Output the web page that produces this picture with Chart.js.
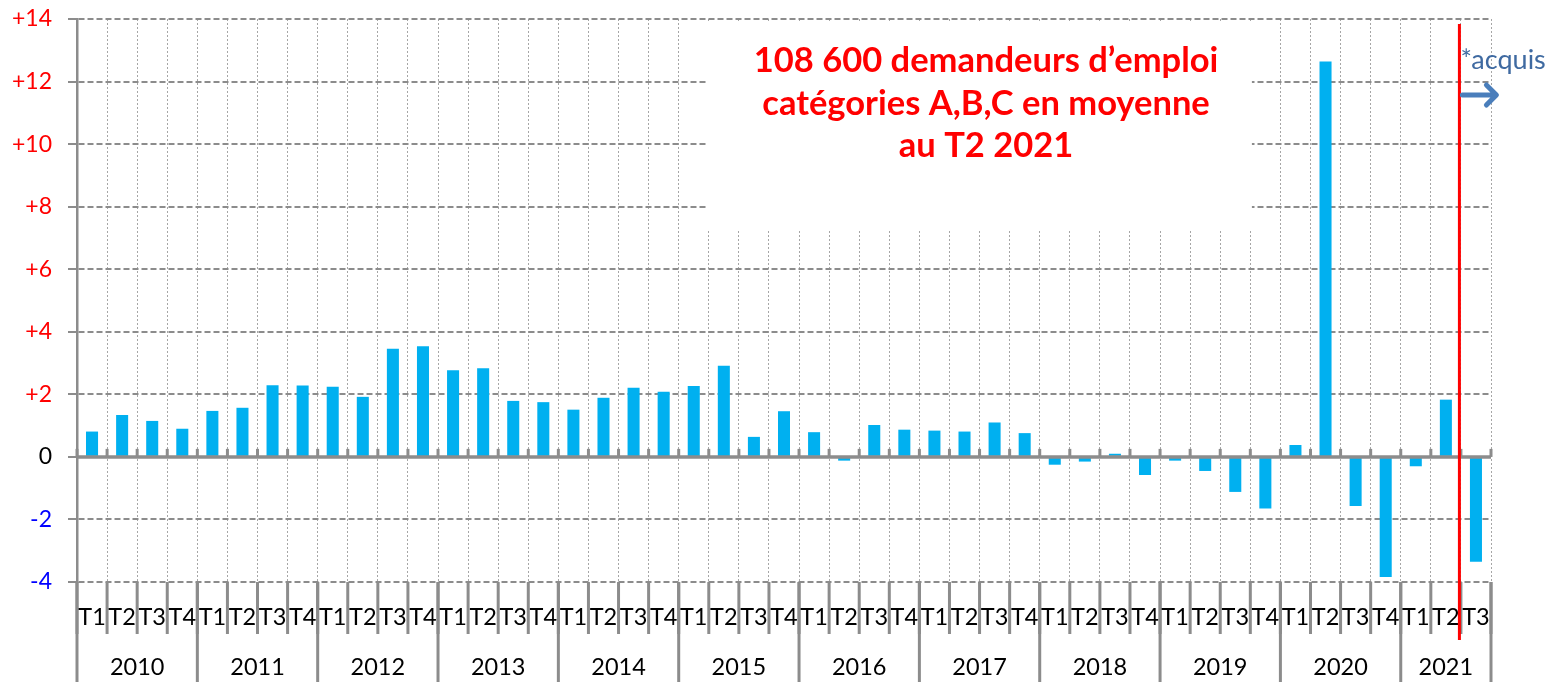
<!DOCTYPE html>
<html>
<head>
<meta charset="utf-8">
<script src="https://cdn.jsdelivr.net/npm/chart.js@4/dist/chart.umd.min.js"></script>
<style>
  html, body { margin: 0; padding: 0; background: #ffffff; }
  #wrap { width: 1549px; height: 682px; }
</style>
</head>
<body>
<div id="wrap"><canvas id="c" width="1549" height="682"></canvas></div>
<script>
// ---- Data ----
const years = ['2010','2011','2012','2013','2014','2015','2016','2017','2018','2019','2020','2021'];
const quartersPerYear = [4,4,4,4,4,4,4,4,4,4,4,3];
const quarters = [
  'T1','T2','T3','T4', 'T1','T2','T3','T4', 'T1','T2','T3','T4', 'T1','T2','T3','T4',
  'T1','T2','T3','T4', 'T1','T2','T3','T4', 'T1','T2','T3','T4', 'T1','T2','T3','T4',
  'T1','T2','T3','T4', 'T1','T2','T3','T4', 'T1','T2','T3','T4', 'T1','T2','T3'
];
const values = [
  0.81, 1.34, 1.15, 0.90,   // 2010
  1.47, 1.57, 2.29, 2.28,   // 2011
  2.24, 1.92, 3.46, 3.54,   // 2012
  2.77, 2.83, 1.79, 1.75,   // 2013
  1.51, 1.89, 2.21, 2.08,   // 2014
  2.27, 2.91, 0.64, 1.46,   // 2015
  0.79, -0.12, 1.02, 0.87,  // 2016
  0.84, 0.81, 1.10, 0.76,   // 2017
  -0.25, -0.15, 0.10, -0.58,// 2018
  -0.12, -0.45, -1.12, -1.65,// 2019
  0.38, 12.64, -1.57, -3.84,// 2020
  -0.30, 1.83, -3.35        // 2021
];
const yTicks = [-4, -2, 0, 2, 4, 6, 8, 10, 12, 14];
const titleLines = ['108 600 demandeurs d\u2019emploi', 'cat\u00e9gories A,B,C en moyenne', 'au T2 2021'];
const acquisText = '*acquis';
const acquisIndex = 45.45; // position of the red "acquis" separator on the category axis

// ---- Styles ----
const GRAY = '#8c8c8c';
const FONT = 'Lato, "Open Sans", sans-serif';

const decorations = {
  id: 'decorations',
  beforeDatasetsDraw(chart) {
    const ctx = chart.ctx;
    const a = chart.chartArea;
    const w = a.right - a.left, h = a.bottom - a.top;
    // white box behind the title, hiding the grid
    ctx.save();
    ctx.fillStyle = '#ffffff';
    ctx.fillRect(a.left + w * 0.4462, a.top + 2, w * 0.3847, h * 0.3725);
    ctx.restore();
  },
  afterDatasetsDraw(chart) {
    const ctx = chart.ctx;
    const a = chart.chartArea;
    const xs = chart.scales.x, ys = chart.scales.y;
    const n = quarters.length;
    const y0 = ys.getPixelForValue(0);
    const boundary = i => xs.getPixelForValue(i - 0.5);

    ctx.save();
    // zero axis line
    ctx.strokeStyle = GRAY;
    ctx.lineWidth = 3.5;
    ctx.beginPath();
    ctx.moveTo(a.left, y0); ctx.lineTo(a.right, y0);
    ctx.stroke();
    // small tick marks on zero line
    ctx.lineWidth = 3;
    for (let i = 0; i <= n; i++) {
      const x = boundary(i);
      ctx.beginPath();
      ctx.moveTo(x, y0 - 8); ctx.lineTo(x, y0);
      ctx.stroke();
    }
    // bottom table: quarter separators
    const H = chart.height;
    for (let i = 0; i <= n; i++) {
      const x = boundary(i);
      ctx.beginPath();
      ctx.moveTo(x, a.bottom); ctx.lineTo(x, a.bottom + 52);
      ctx.stroke();
    }
    // year separators
    let idx = 0;
    const yearBounds = [0];
    quartersPerYear.forEach(q => { idx += q; yearBounds.push(idx); });
    yearBounds.forEach(b => {
      const x = boundary(b);
      ctx.beginPath();
      ctx.moveTo(x, a.bottom); ctx.lineTo(x, H);
      ctx.stroke();
    });
    // quarter labels
    ctx.fillStyle = '#000000';
    ctx.font = '23.5px ' + FONT;
    ctx.textAlign = 'center';
    ctx.textBaseline = 'middle';
    for (let i = 0; i < n; i++) {
      ctx.fillText(quarters[i], xs.getPixelForValue(i), a.bottom + 35);
    }
    // year labels
    for (let k = 0; k < years.length; k++) {
      const xc = (boundary(yearBounds[k]) + boundary(yearBounds[k + 1])) / 2;
      ctx.fillText(years[k], xc, a.bottom + 85);
    }

    // red separator line
    const xr = xs.getPixelForValue(acquisIndex);
    ctx.strokeStyle = '#ff0000';
    ctx.lineWidth = 3;
    ctx.beginPath();
    ctx.moveTo(xr, a.top + 5); ctx.lineTo(xr, a.bottom + 58);
    ctx.stroke();

    // title
    const tx = a.left + (a.right - a.left) * 0.6429;
    ctx.fillStyle = '#ff0000';
    ctx.font = 'bold 34.5px ' + FONT;
    titleLines.forEach((t, i) => ctx.fillText(t, tx, a.top + 42 + i * 42.5));

    // *acquis label
    ctx.fillStyle = '#3f6aa1';
    ctx.font = '27px ' + FONT;
    ctx.textAlign = 'left';
    ctx.fillText(acquisText, xr + 1, a.top + 41);

    // arrow
    ctx.strokeStyle = '#4a7ebb';
    ctx.lineWidth = 5;
    ctx.lineCap = 'round';
    ctx.lineJoin = 'round';
    const ay = a.top + 76;
    ctx.beginPath();
    ctx.moveTo(xr + 3, ay); ctx.lineTo(xr + 36, ay);
    ctx.moveTo(xr + 27, ay - 10); ctx.lineTo(xr + 37, ay); ctx.lineTo(xr + 27, ay + 10);
    ctx.stroke();
    ctx.restore();
  }
};

new Chart(document.getElementById('c'), {
  type: 'bar',
  data: {
    labels: quarters,
    datasets: [{
      data: values,
      backgroundColor: '#00b0f0',
      borderWidth: 0,
      barPercentage: 0.4,
      categoryPercentage: 1.0
    }]
  },
  options: {
    responsive: false,
    animation: false,
    events: [],
    layout: { padding: { left: 0, right: 58, top: 19, bottom: 0 } },
    plugins: { legend: { display: false }, tooltip: { enabled: false }, title: { display: false } },
    scales: {
      x: {
        type: 'category',
        offset: true,
        ticks: { display: false },
        grid: { display: true, offset: true, color: '#a6a6a6', lineWidth: 1, drawTicks: false },
        border: { display: false, dash: [2, 2] },
        afterFit(scale) { scale.height = 100; scale.paddingLeft = 0; scale.paddingRight = 0; }
      },
      y: {
        min: -4,
        max: 14,
        afterBuildTicks(scale) { scale.ticks = yTicks.map(v => ({ value: v })); },
        ticks: {
          padding: 16,
          font: { family: FONT, size: 23 },
          color: ctx => ctx.tick.value > 0 ? '#ff0000' : (ctx.tick.value < 0 ? '#0000ff' : '#000000'),
          callback: v => v > 0 ? '+' + v : String(v)
        },
        grid: { color: GRAY, lineWidth: 2, tickLength: 9, tickColor: GRAY, tickWidth: 2 },
        border: { display: true, color: GRAY, width: 2.5, dash: [6, 3] },
        afterFit(scale) { scale.width = 77; scale.paddingTop = 0; scale.paddingBottom = 0; }
      }
    }
  },
  plugins: [decorations]
});
</script>
</body>
</html>
